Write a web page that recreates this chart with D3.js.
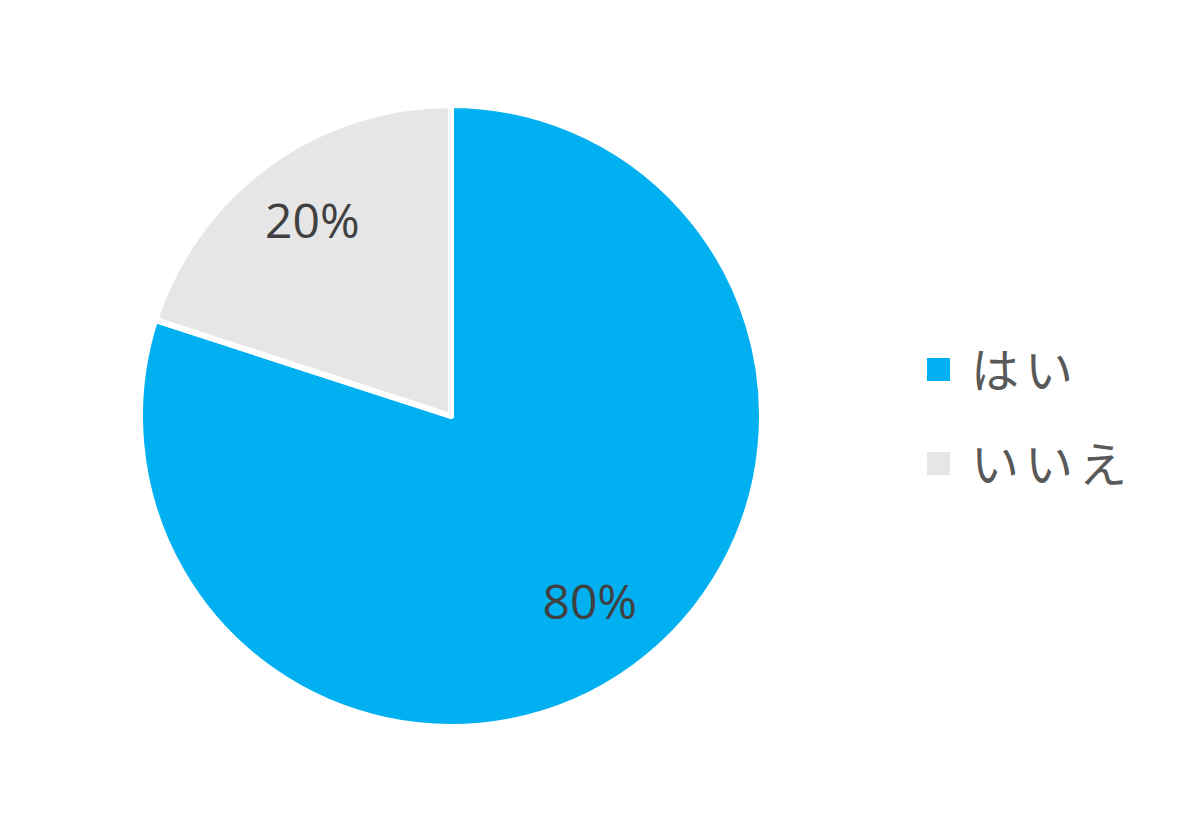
<!DOCTYPE html>
<html>
<head>
<meta charset="utf-8">
<script src="https://cdn.jsdelivr.net/npm/d3@7"></script>
<style>
  body { margin: 0; background: #fff; }
</style>
</head>
<body>
<div id="chart"></div>
<script>
var categories = ["はい", "いいえ"];
var values = [80, 20];
var labels = ["80%", "20%"];
var colors = ["#00B0F0", "#E6E6E6"];

var width = 1187;
var height = 838;
var cx = 451, cy = 416;
var radius = 311;

var svg = d3.select("#chart")
  .append("svg")
  .attr("width", width)
  .attr("height", height);

var data = categories.map(function(c, i) {
  return { name: c, value: values[i], label: labels[i], color: colors[i] };
});

var pie = d3.pie().sort(null).value(function(d) { return d.value; });
var arc = d3.arc().innerRadius(0).outerRadius(radius);
var labelArc = d3.arc().innerRadius(236).outerRadius(236);

var g = svg.append("g").attr("transform", "translate(" + cx + "," + cy + ")");

var slices = g.selectAll("g.slice").data(pie(data)).enter().append("g").attr("class", "slice");

slices.append("path")
  .attr("d", arc)
  .attr("fill", function(d) { return d.data.color; })
  .attr("stroke", "#fff")
  .attr("stroke-width", 6)
  .attr("stroke-linejoin", "round");

slices.append("text")
  .attr("transform", function(d) { return "translate(" + labelArc.centroid(d) + ")"; })
  .attr("text-anchor", "middle")
  .attr("dy", "0.26em")
  .attr("font-family", "'Open Sans', 'Noto Sans', sans-serif")
  .attr("font-size", 48)
  .attr("fill", "#404040")
  .text(function(d) { return d.data.label; });

// legend
var legend = svg.append("g").attr("transform", "translate(927,358)");
var item = legend.selectAll("g").data(data).enter().append("g")
  .attr("transform", function(d, i) { return "translate(0," + i * 94 + ")"; });

item.append("rect")
  .attr("width", 23)
  .attr("height", 23)
  .attr("fill", function(d) { return d.color; });

item.append("text")
  .attr("x", 44)
  .attr("y", 12)
  .attr("dy", "0.38em")
  .attr("font-family", "'Noto Sans CJK JP', sans-serif")
  .attr("font-size", 48)
  .attr("letter-spacing", 6)
  .attr("fill", "#595959")
  .text(function(d) { return d.name; });
</script>
</body>
</html>
